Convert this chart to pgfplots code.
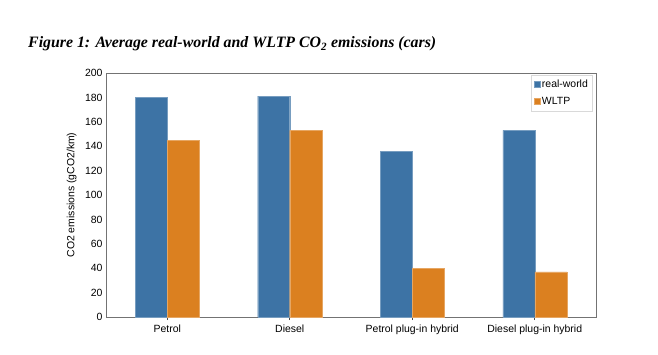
\documentclass[border=0pt]{standalone}
\usepackage{pgfplots}
\pgfplotsset{compat=1.18}
\usepackage{fontspec}
\setmainfont{Liberation Sans}
\newfontfamily\titlefont{Liberation Serif}
\definecolor{rwblue}{RGB}{61,115,165}
\definecolor{wlorange}{RGB}{219,128,32}
\begin{document}
\begin{tikzpicture}
\useasboundingbox (-106bp,-38bp) rectangle (552bp,317bp);
\node[anchor=base west, inner sep=0pt] at (-78bp,269bp) {\titlefont\fontsize{15.9}{18}\selectfont\bfseries\itshape Figure 1: Average real-world and WLTP CO\textsubscript{2} emissions (cars)};
\begin{axis}[
  scale only axis,
  width=490bp, height=244bp,
  at={(0,0)}, anchor=south west,
  xmin=-0.5, xmax=3.5,
  ymin=0, ymax=200,
  ytick={0,20,...,200},
  xtick={0,1,2,3},
  xtick pos=bottom,
  xticklabels={Petrol,Diesel,Petrol plug-in hybrid,Diesel plug-in hybrid},
  ybar, bar width=32bp,
  axis line style={draw=black!55, line width=0.9pt},
  x tick style={draw=black!70, line width=0.6pt},
  xtick align=outside, major tick length=3bp,
  ytick style={draw=none},
  tick label style={font=\fontsize{10.5}{12}\selectfont},
  /pgf/number format/assume math mode=true,
  xticklabel style={yshift=-1bp},
  ylabel={CO2 emissions (gCO2/km)},
  ylabel style={font=\fontsize{10.5}{12}\selectfont, at={(axis description cs:-0.07,0.5)}, anchor=center},
  legend style={at={(rel axis cs:0.992,0.992)}, anchor=north east, draw=black!15, font=\fontsize{10.5}{12}\selectfont, row sep=4bp, inner xsep=2bp, inner ysep=3bp},
  legend cell align=left,
  legend image code/.code={\fill[#1] (0bp,-3bp) rectangle (6bp,3bp);},
  clip=false,
]
\addplot[fill=rwblue, draw=rwblue!70!white, line width=0.4pt, bar shift=-16bp] coordinates {(0,180) (1,181) (2,136) (3,153)};
\addplot[fill=wlorange, draw=wlorange!70!white, line width=0.4pt, bar shift=16bp] coordinates {(0,145) (1,153) (2,40) (3,37)};
\legend{real-world,WLTP}
\end{axis}
\end{tikzpicture}
\end{document}
